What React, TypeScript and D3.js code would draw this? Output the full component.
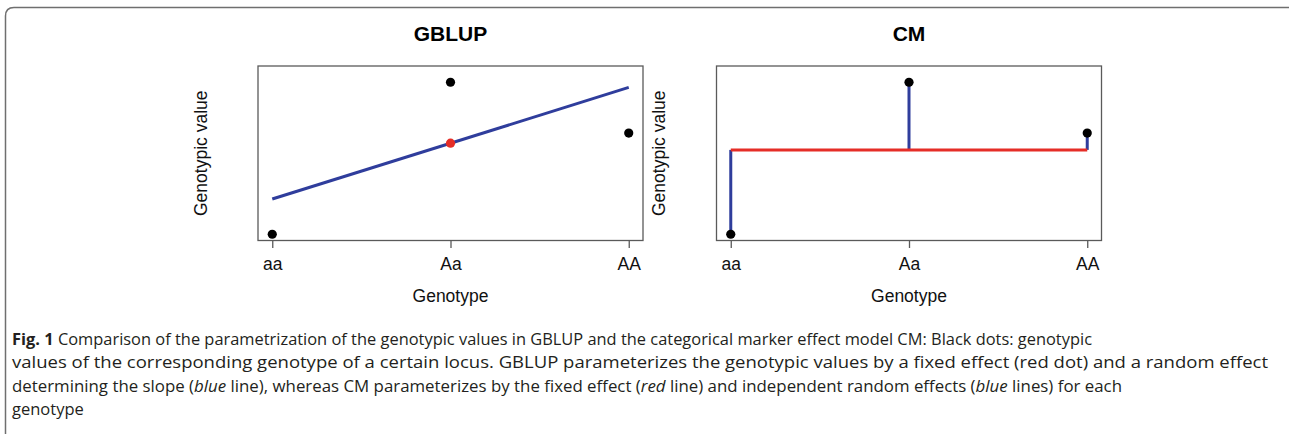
import { useEffect, useRef } from 'react';
import * as d3 from 'd3';

// genotypes at one locus, coded 1..3 on the x axis
const genotypes = ['aa', 'Aa', 'AA'];
const genotypeCodes = [1, 2, 3];
// genotypic values (black dots)
const genotypicValues = [0, 1, 0.666];
// GBLUP: fixed effect at Aa (red dot) and slope line ends at aa and AA
const gblupFixed = 0.599;
const gblupLineEnds = [0.232, 0.966];
// CM: fixed effect (red line)
const cmFixed = 0.555;

const captionLines = [
  'Comparison of the parametrization of the genotypic values in GBLUP and the categorical marker effect model CM: Black dots: genotypic',
  'values of the corresponding genotype of a certain locus. GBLUP parameterizes the genotypic values by a fixed effect (red dot) and a random effect',
  'determining the slope (|blue| line), whereas CM parameterizes by the fixed effect (|red| line) and independent random effects (|blue| lines) for each',
  'genotype',
];
// measured line widths of the caption in the figure (null = natural)
const captionWidths = [1080, 1256, 1110, null];

const BLUE = '#2f3d9c';
const RED = '#e52d27';
const FONT = '"Liberation Sans", Arial, Helvetica, sans-serif';

function drawPanel(root, left, title, kind) {
  const box = { x0: left, x1: left + 385, y0: 66, y1: 240.5 };
  const x = d3.scaleLinear().domain([0.92, 3.08]).range([box.x0, box.x1]);
  const y = d3.scaleLinear().domain([-0.041, 1.107]).range([box.y1, box.y0]);
  const g = root.append('g');

  g.append('rect')
    .attr('x', box.x0)
    .attr('y', box.y0)
    .attr('width', box.x1 - box.x0)
    .attr('height', box.y1 - box.y0)
    .attr('fill', 'none')
    .attr('stroke', '#5a5a5a')
    .attr('stroke-width', 1.3);

  g.append('g')
    .attr('transform', `translate(0,${box.y1})`)
    .call(
      d3
        .axisBottom(x)
        .tickValues(genotypeCodes)
        .tickFormat((d, i) => genotypes[i])
        .tickSize(7.5)
        .tickPadding(10)
    )
    .call((axis) => axis.select('.domain').remove())
    .call((axis) => axis.selectAll('line').attr('stroke', '#5a5a5a').attr('stroke-width', 1.3))
    .call((axis) =>
      axis.selectAll('text').attr('font-family', FONT).attr('font-size', 17.5).attr('fill', '#111')
    );

  const cx = (box.x0 + box.x1) / 2;
  g.append('text')
    .attr('x', cx)
    .attr('y', 40.5)
    .attr('text-anchor', 'middle')
    .attr('font-family', FONT)
    .attr('font-weight', 'bold')
    .attr('font-size', 21)
    .text(title);

  g.append('text')
    .attr('x', cx)
    .attr('y', 302)
    .attr('text-anchor', 'middle')
    .attr('font-family', FONT)
    .attr('font-size', 17.5)
    .attr('fill', '#111')
    .text('Genotype');

  g.append('text')
    .attr('transform', `translate(${box.x0 - 51.5},${(box.y0 + box.y1) / 2}) rotate(-90)`)
    .attr('text-anchor', 'middle')
    .attr('font-family', FONT)
    .attr('font-size', 17.5)
    .attr('fill', '#111')
    .text('Genotypic value');

  if (kind === 'gblup') {
    g.append('line')
      .attr('x1', x(genotypeCodes[0]))
      .attr('x2', x(genotypeCodes[2]))
      .attr('y1', y(gblupLineEnds[0]))
      .attr('y2', y(gblupLineEnds[1]))
      .attr('stroke', BLUE)
      .attr('stroke-width', 3);
    g.append('circle')
      .attr('cx', x(genotypeCodes[1]))
      .attr('cy', y(gblupFixed))
      .attr('r', 4.6)
      .attr('fill', RED);
  } else {
    g.selectAll('.random')
      .data(genotypeCodes)
      .join('line')
      .attr('class', 'random')
      .attr('x1', (d) => x(d))
      .attr('x2', (d) => x(d))
      .attr('y1', y(cmFixed))
      .attr('y2', (d, i) => y(genotypicValues[i]))
      .attr('stroke', BLUE)
      .attr('stroke-width', 3);
    g.append('line')
      .attr('x1', x(genotypeCodes[0]))
      .attr('x2', x(genotypeCodes[2]))
      .attr('y1', y(cmFixed))
      .attr('y2', y(cmFixed))
      .attr('stroke', RED)
      .attr('stroke-width', 3);
  }

  g.selectAll('.geno')
    .data(genotypeCodes)
    .join('circle')
    .attr('class', 'geno')
    .attr('cx', (d) => x(d))
    .attr('cy', (d, i) => y(genotypicValues[i]))
    .attr('r', 4.6)
    .attr('fill', '#000');
}

export default function App() {
  const ref = useRef(null);

  useEffect(() => {
    const svg = d3.select(ref.current);
    svg.selectAll('*').remove();

    svg
      .append('path')
      .attr('d', 'M5.5,434 L5.5,16 Q5.5,7.5 14,7.5 L1300,7.5')
      .attr('fill', 'none')
      .attr('stroke', '#6f6f6f')
      .attr('stroke-width', 1.5);

    drawPanel(svg, 258, 'GBLUP', 'gblup');
    drawPanel(svg, 716.5, 'CM', 'cm');

    const caption = svg
      .append('g')
      .attr('font-family', '"Open Sans", "Noto Sans", sans-serif')
      .attr('font-size', 16.5)
      .attr('fill', '#231f20');

    captionLines.forEach((line, i) => {
      const t = caption
        .append('text')
        .attr('x', 12)
        .attr('y', 344.5 + i * 23.5);
      if (captionWidths[i]) {
        t.attr('textLength', captionWidths[i]).attr('lengthAdjust', 'spacingAndGlyphs');
      }
      if (i === 0) {
        t.append('tspan').attr('font-weight', 'bold').text('Fig. 1 ');
      }
      line.split('|').forEach((part, j) => {
        t.append('tspan')
          .attr('font-style', j % 2 === 1 ? 'italic' : null)
          .text(part);
      });
    });
  }, []);

  return (
    <svg
      ref={ref}
      width={1289}
      height={434}
      style={{ position: 'absolute', left: 0, top: 0, background: '#fff' }}
    />
  );
}
